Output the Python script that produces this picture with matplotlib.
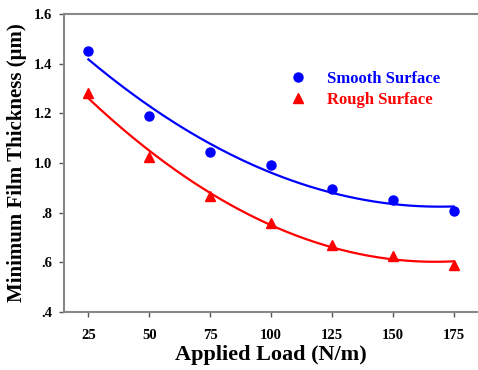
import numpy as np
import matplotlib
matplotlib.use("Agg")
import matplotlib.pyplot as plt

load = [25, 50, 75, 100, 125, 150, 175]
smooth = [1.45, 1.19, 1.045, 0.99, 0.895, 0.85, 0.805]
rough = [1.28, 1.025, 0.865, 0.76, 0.67, 0.625, 0.59]
yticks = [0.4, 0.6, 0.8, 1.0, 1.2, 1.4, 1.6]
ytick_labels = [".4", ".6", ".8", "1.0", "1.2", "1.4", "1.6"]

plt.rcParams["font.family"] = ["Liberation Serif", "DejaVu Serif"]
plt.rcParams["font.weight"] = "bold"

fig = plt.figure(figsize=(4.78, 3.7), dpi=100)
ax = fig.add_axes([0.134, 0.157, 0.866, 0.805])

xs = np.linspace(25, 175, 200)
for y, color, marker, label in [(smooth, "blue", "o", "Smooth Surface"),
                                (rough, "red", "^", "Rough Surface")]:
    coef = np.polyfit(load, y, 2)
    ax.plot(xs, np.polyval(coef, xs), color=color, lw=1.6)
    ax.plot(load, y, linestyle="none", marker=marker, color=color, ms=6.5, label=label)

ax.set_xlim(15, 185)
ax.set_ylim(0.4, 1.6)
ax.set_xticks(load)
ax.set_yticks(yticks)
ax.set_yticklabels(ytick_labels)
ax.tick_params(labelsize=10.5, color="#555555", length=3.5, width=1)
ax.tick_params(axis="x", pad=9)
ax.tick_params(axis="y", pad=5)
for s in ["left", "bottom", "top"]:
    ax.spines[s].set_color("#888888")
    ax.spines[s].set_linewidth(1.5)
ax.spines["right"].set_visible(False)

ax.set_xlabel("Applied Load (N/m)", fontsize=16, fontweight="bold", labelpad=2)
ax.set_ylabel("Minimum Film Thickness (\u03bcm)", fontsize=15, fontweight="bold", labelpad=5)

leg = ax.legend(loc="upper left", bbox_to_anchor=(0.51, 0.86), frameon=False,
                handlelength=1.0, handletextpad=1.2, fontsize=12, labelspacing=0.3)
for t, c in zip(leg.get_texts(), ["blue", "red"]):
    t.set_color(c)

fig.savefig("out.png", dpi=100)
